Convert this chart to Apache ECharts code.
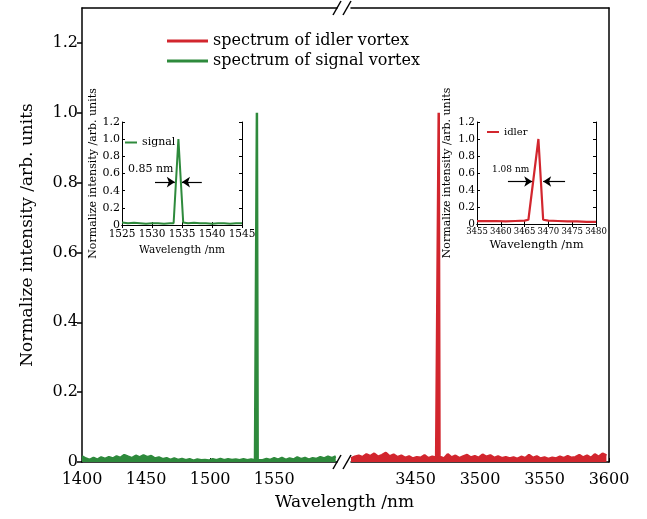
<!DOCTYPE html>
<html>
<head>
<meta charset="utf-8">
<script src="https://cdn.jsdelivr.net/npm/echarts@6/dist/echarts.min.js"></script>
<style>
	html, body { margin: 0; padding: 0; background: #fff; }
	#chart-box { width: 647px; height: 519px; }
</style>
</head>
<body>
<div id="chart-box"></div>
<script>
// main spectra: noise sampled every 3 nm, plus the narrow peak
const signalStart = 1400
const signalStep = 3
const signalNoise = [0.016, 0.010, 0.006, 0.012, 0.007, 0.013, 0.009, 0.014, 0.010, 0.016,
	0.012, 0.020, 0.015, 0.011, 0.018, 0.013, 0.019, 0.014, 0.017, 0.010,
	0.013, 0.008, 0.011, 0.006, 0.010, 0.006, 0.009, 0.005, 0.008, 0.004,
	0.007, 0.005, 0.006, 0.004, 0.008, 0.005, 0.009, 0.005, 0.008, 0.006,
	0.007, 0.005, 0.008, 0.005, 0.007, 0.005, 0.006, 0.005, 0.009, 0.006,
	0.011, 0.007, 0.012, 0.006, 0.010, 0.007, 0.013, 0.008, 0.012, 0.007,
	0.011, 0.009, 0.014, 0.010, 0.015, 0.011, 0.016]
const signalPeakX = [1535.9, 1536.5, 1537.1]
const signalPeakY = [0.006, 1.0, 0.006]

const idlerStart = 3400
const idlerStep = 3
const idlerNoise = [0.010, 0.015, 0.018, 0.014, 0.022, 0.017, 0.024, 0.015, 0.020, 0.026,
	0.016, 0.021, 0.014, 0.018, 0.012, 0.016, 0.010, 0.014, 0.012, 0.019,
	0.011, 0.015, 0.012, 0.014, 0.010, 0.022, 0.013, 0.018, 0.011, 0.016,
	0.020, 0.013, 0.017, 0.012, 0.021, 0.015, 0.019, 0.012, 0.016, 0.011,
	0.014, 0.010, 0.013, 0.009, 0.015, 0.011, 0.020, 0.012, 0.016, 0.010,
	0.013, 0.009, 0.012, 0.010, 0.015, 0.011, 0.017, 0.012, 0.014, 0.020,
	0.013, 0.018, 0.012, 0.022, 0.015, 0.024, 0.019]
const idlerPeakX = [3467.4, 3468.0, 3468.6]
const idlerPeakY = [0.015, 1.0, 0.015]

// insets
const signalInsetX = [1525, 1526, 1527, 1528, 1529, 1530, 1531, 1532, 1533, 1533.6, 1534.4, 1535.2, 1536, 1537, 1538, 1539, 1540, 1541, 1542, 1543, 1544, 1545]
const signalInsetY = [0.03, 0.02, 0.025, 0.02, 0.015, 0.02, 0.02, 0.015, 0.02, 0.02, 1.0, 0.03, 0.02, 0.025, 0.02, 0.02, 0.015, 0.02, 0.02, 0.015, 0.02, 0.02]
const idlerInsetX = [3455, 3457, 3459, 3461, 3463, 3465, 3465.8, 3467.9, 3468.9, 3470, 3472, 3474, 3476, 3478, 3480]
const idlerInsetY = [0.035, 0.035, 0.035, 0.03, 0.035, 0.04, 0.05, 1.0, 0.05, 0.04, 0.035, 0.03, 0.03, 0.025, 0.025]

// FWHM arrows [fromX, toX] at half maximum
const signalArrows = [[1530.5, 1533.8], [1538.3, 1535.0]]
const idlerArrows = [[3461.5, 3466.6], [3473.5, 3468.9]]

const yTicks = [0, 0.2, 0.4, 0.6, 0.8, 1.0, 1.2]
const signalTicks = [1400, 1450, 1500, 1550]
const idlerTicks = [3450, 3500, 3550, 3600]

const green = "#2e8a3c"
const red = "#d2262e"
const font = "DejaVu Serif"

function buildSeries(start, step, noise, peakX, peakY) {
	let points = noise.map(function (v, i) {
		return [start + i * step, v]
	})
	peakX.forEach(function (x, i) {
		points.push([x, peakY[i]])
	})
	points.sort(function (a, b) {
		return a[0] - b[0]
	})
	return points
}

function zip(xs, ys) {
	return xs.map(function (x, i) {
		return [x, ys[i]]
	})
}

function arrowLines(arrows) {
	return arrows.map(function (a) {
		return [{coord: [a[0], 0.5]}, {coord: [a[1], 0.5]}]
	})
}

function yLabel(v) {
	return v === 0 ? "0" : v.toFixed(1)
}

function xLabel(v) {
	return String(v)
}

let chart = echarts.init(document.getElementById("chart-box"))

let mainLine = {lineStyle: {color: "#000", width: 1.5}}
let insetLine = {lineStyle: {color: "#000", width: 1}}

let option = {
	animation: false,
	backgroundColor: "#fff",
	textStyle: {fontFamily: font, color: "#000"},
	grid: [
		{left: 82, top: 8, width: 255, height: 454},
		{left: 351, top: 8, width: 258, height: 454},
		{left: 122, top: 122, width: 120, height: 103},
		{left: 477, top: 122, width: 119, height: 102}
	],
	xAxis: [
		{
			gridIndex: 0, type: "value", min: 1400, max: 1599,
			axisLine: mainLine,
			axisTick: {inside: true, length: 4, customValues: signalTicks, lineStyle: {color: "#000"}},
			axisLabel: {customValues: signalTicks, formatter: xLabel, fontSize: 16, margin: 10, color: "#000", fontFamily: font},
			splitLine: {show: false}
		},
		{
			gridIndex: 0, type: "value", position: "top", min: 1400, max: 1599,
			axisLine: mainLine, axisTick: {show: false}, axisLabel: {show: false}, splitLine: {show: false}
		},
		{
			gridIndex: 1, type: "value", min: 3400, max: 3600,
			axisLine: mainLine,
			axisTick: {inside: true, length: 4, customValues: idlerTicks, lineStyle: {color: "#000"}},
			axisLabel: {customValues: idlerTicks, formatter: xLabel, fontSize: 16, margin: 10, color: "#000", fontFamily: font},
			splitLine: {show: false}
		},
		{
			gridIndex: 1, type: "value", position: "top", min: 3400, max: 3600,
			axisLine: mainLine, axisTick: {show: false}, axisLabel: {show: false}, splitLine: {show: false}
		},
		{
			gridIndex: 2, type: "value", min: 1525, max: 1545, interval: 5,
			name: "Wavelength /nm", nameLocation: "middle", nameGap: 20,
			nameTextStyle: {fontSize: 10.5, fontFamily: font, color: "#000"},
			axisLine: insetLine,
			axisTick: {inside: true, length: 3, lineStyle: {color: "#000"}},
			axisLabel: {formatter: xLabel, showMinLabel: true, showMaxLabel: true, hideOverlap: false,
				fontSize: 10.5, margin: 4, color: "#000", fontFamily: font},
			splitLine: {show: false}
		},
		{
			gridIndex: 2, type: "value", position: "top", min: 1525, max: 1545, interval: 5,
			axisLine: insetLine, axisTick: {inside: true, length: 3, lineStyle: {color: "#000"}},
			axisLabel: {show: false}, splitLine: {show: false}
		},
		{
			gridIndex: 3, type: "value", min: 3455, max: 3480, interval: 5,
			name: "Wavelength /nm", nameLocation: "middle", nameGap: 15,
			nameTextStyle: {fontSize: 11.5, fontFamily: font, color: "#000"},
			axisLine: insetLine,
			axisTick: {inside: true, length: 3, lineStyle: {color: "#000"}},
			axisLabel: {formatter: xLabel, showMinLabel: true, showMaxLabel: true, hideOverlap: false,
				fontSize: 8.5, margin: 3, color: "#000", fontFamily: font},
			splitLine: {show: false}
		},
		{
			gridIndex: 3, type: "value", position: "top", min: 3455, max: 3480, interval: 5,
			axisLine: insetLine, axisTick: {inside: true, length: 3, lineStyle: {color: "#000"}},
			axisLabel: {show: false}, splitLine: {show: false}
		}
	],
	yAxis: [
		{
			gridIndex: 0, type: "value", min: 0, max: 1.3,
			name: "Normalize intensity /arb. units", nameLocation: "middle", nameGap: 46,
			nameTextStyle: {fontSize: 17, fontFamily: font, color: "#000"},
			axisLine: mainLine,
			axisTick: {length: 5, customValues: yTicks, lineStyle: {color: "#000", width: 1.5}},
			axisLabel: {customValues: yTicks, formatter: yLabel, fontSize: 16, margin: 4, color: "#000", fontFamily: font},
			splitLine: {show: false}
		},
		{
			gridIndex: 1, type: "value", position: "right", min: 0, max: 1.3,
			axisLine: mainLine, axisTick: {show: false}, axisLabel: {show: false}, splitLine: {show: false}
		},
		{
			gridIndex: 2, type: "value", min: 0, max: 1.2, interval: 0.2,
			name: "Normalize intensity /arb. units", nameLocation: "middle", nameGap: 22,
			nameTextStyle: {fontSize: 11, fontFamily: font, color: "#000"},
			axisLine: insetLine,
			axisTick: {inside: true, length: 3, lineStyle: {color: "#000"}},
			axisLabel: {formatter: yLabel, fontSize: 11, margin: 2, color: "#000", fontFamily: font},
			splitLine: {show: false}
		},
		{
			gridIndex: 2, type: "value", position: "right", min: 0, max: 1.2, interval: 0.2,
			axisLine: insetLine, axisTick: {inside: true, length: 3, lineStyle: {color: "#000"}},
			axisLabel: {show: false}, splitLine: {show: false}
		},
		{
			gridIndex: 3, type: "value", min: 0, max: 1.2, interval: 0.2,
			name: "Normalize intensity /arb. units", nameLocation: "middle", nameGap: 24,
			nameTextStyle: {fontSize: 11, fontFamily: font, color: "#000"},
			axisLine: insetLine,
			axisTick: {inside: true, length: 3, lineStyle: {color: "#000"}},
			axisLabel: {formatter: yLabel, fontSize: 10.5, margin: 2, color: "#000", fontFamily: font},
			splitLine: {show: false}
		},
		{
			gridIndex: 3, type: "value", position: "right", min: 0, max: 1.2, interval: 0.2,
			axisLine: insetLine, axisTick: {inside: true, length: 3, lineStyle: {color: "#000"}},
			axisLabel: {show: false}, splitLine: {show: false}
		}
	],
	legend: [
		{
			data: ["spectrum of idler vortex", "spectrum of signal vortex"],
			orient: "vertical", left: 167, top: 31, itemGap: 0, padding: 0,
			icon: "rect", itemWidth: 41, itemHeight: 3,
			textStyle: {fontSize: 16, lineHeight: 20, fontFamily: font, color: "#000"}
		},
		{
			data: ["signal"], left: 125, top: 136, padding: 0,
			icon: "rect", itemWidth: 12, itemHeight: 2,
			textStyle: {fontSize: 11, lineHeight: 13, fontFamily: font, color: "#000"}
		},
		{
			data: ["idler"], left: 487, top: 126, padding: 0,
			icon: "rect", itemWidth: 12, itemHeight: 2,
			textStyle: {fontSize: 10, lineHeight: 12, fontFamily: font, color: "#000"}
		}
	],
	series: [
		{
			name: "spectrum of signal vortex", type: "line", xAxisIndex: 0, yAxisIndex: 0,
			data: buildSeries(signalStart, signalStep, signalNoise, signalPeakX, signalPeakY),
			showSymbol: false, itemStyle: {color: green},
			lineStyle: {color: green, width: 2.5}, areaStyle: {color: green, opacity: 1}
		},
		{
			name: "spectrum of idler vortex", type: "line", xAxisIndex: 2, yAxisIndex: 1,
			data: buildSeries(idlerStart, idlerStep, idlerNoise, idlerPeakX, idlerPeakY),
			showSymbol: false, itemStyle: {color: red},
			lineStyle: {color: red, width: 2.5}, areaStyle: {color: red, opacity: 1}
		},
		{
			name: "signal", type: "line", xAxisIndex: 4, yAxisIndex: 2,
			data: zip(signalInsetX, signalInsetY),
			showSymbol: false, itemStyle: {color: green},
			lineStyle: {color: green, width: 2},
			markLine: {
				silent: true, symbol: ["none", "arrow"], symbolSize: 8,
				lineStyle: {color: "#000", width: 1.2, type: "solid"},
				label: {show: false},
				data: arrowLines(signalArrows)
			}
		},
		{
			name: "idler", type: "line", xAxisIndex: 6, yAxisIndex: 4,
			data: zip(idlerInsetX, idlerInsetY),
			showSymbol: false, itemStyle: {color: red},
			lineStyle: {color: red, width: 2.2},
			markLine: {
				silent: true, symbol: ["none", "arrow"], symbolSize: 8,
				lineStyle: {color: "#000", width: 1.2, type: "solid"},
				label: {show: false},
				data: arrowLines(idlerArrows)
			}
		}
	],
	graphic: [
		{type: "text", left: 128, top: 164, style: {text: "0.85 nm", font: "11px 'DejaVu Serif'", fill: "#000"}},
		{type: "text", left: 492, top: 165, style: {text: "1.08 nm", font: "9px 'DejaVu Serif'", fill: "#000"}},
		{type: "text", left: 275, top: 494, style: {text: "Wavelength /nm", font: "17px 'DejaVu Serif'", fill: "#000"}},
		{type: "line", shape: {x1: 333, y1: 15, x2: 341, y2: 1}, style: {stroke: "#000", lineWidth: 1.5}},
		{type: "line", shape: {x1: 343, y1: 15, x2: 351, y2: 1}, style: {stroke: "#000", lineWidth: 1.5}},
		{type: "line", shape: {x1: 333, y1: 469, x2: 341, y2: 455}, style: {stroke: "#000", lineWidth: 1.5}},
		{type: "line", shape: {x1: 343, y1: 469, x2: 351, y2: 455}, style: {stroke: "#000", lineWidth: 1.5}}
	]
}
chart.setOption(option)
</script>
</body>
</html>
